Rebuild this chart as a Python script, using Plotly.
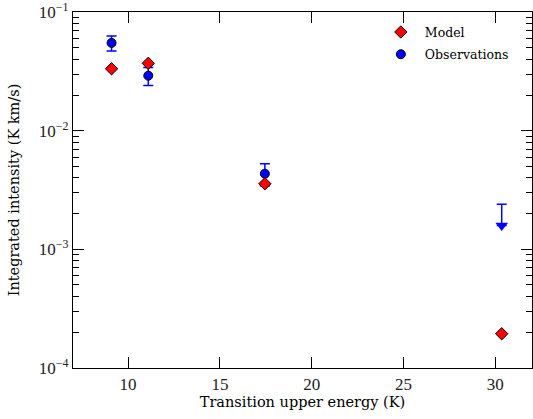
import plotly.graph_objects as go

# Data
model_x = [9.1, 11.1, 17.45, 30.35]
model_y = [0.0333, 0.0370, 0.00357, 0.000194]

obs_x = [9.1, 11.1, 17.45]
obs_y = [0.0550, 0.0291, 0.00434]
obs_err = [0.0080, 0.0050, 0.00093]

limit_x = [30.35]
limit_y = [0.0024]

y_tickvals = [1e-4, 1e-3, 1e-2, 1e-1]
y_ticktext = ["10<sup>−4</sup>", "10<sup>−3</sup>", "10<sup>−2</sup>", "10<sup>−1</sup>"]
x_tickvals = [10, 15, 20, 25, 30]

TICKFONT = "Liberation Serif"
TITLEFONT = "DejaVu Serif"
BLUE = "#0000ff"
RED = "#ff0000"

arrow_frac = 0.66
arrow_y = [v * arrow_frac for v in limit_y]
arrow_len = [v - a for v, a in zip(limit_y, arrow_y)]

minor_vals = [m * 10 ** e for e in range(-4, -1) for m in range(2, 10)]

fig = go.Figure()

fig.add_trace(go.Scatter(
    x=obs_x, y=obs_y, mode="markers", name="Observations",
    legendrank=2, legendgroup="obs",
    marker=dict(symbol="circle", size=9, color=BLUE, line=dict(color="black", width=1)),
    error_y=dict(type="data", array=obs_err, symmetric=True, color=BLUE, thickness=1.5, width=5),
))

fig.add_trace(go.Scatter(
    x=limit_x, y=arrow_y, mode="markers", showlegend=False, legendgroup="obs",
    marker=dict(symbol="triangle-down", size=11, color=BLUE, line=dict(width=0)),
    error_y=dict(type="data", array=arrow_len, arrayminus=[0] * len(arrow_len),
                 symmetric=False, color=BLUE, thickness=1.5, width=5),
))

fig.add_trace(go.Scatter(
    x=model_x, y=model_y, mode="markers", name="Model",
    legendrank=1, legendgroup="model",
    marker=dict(symbol="diamond", size=9.5, color=RED, line=dict(color="black", width=1)),
))

axis_common = dict(
    showline=True, linecolor="black", linewidth=1.3, mirror="ticks",
    ticks="inside", ticklen=11, tickwidth=1.2, tickcolor="black",
    showgrid=False, zeroline=False, automargin=False, ticklabeloverflow="allow",
    tickfont=dict(family=TICKFONT, size=17, color="#222"),
)

fig.update_xaxes(
    range=[7, 32], tickvals=x_tickvals,
    title=dict(text="Transition upper energy (K)", font=dict(family=TITLEFONT, size=14.5, color="black"), standoff=4),
    **axis_common,
)
fig.update_yaxes(
    type="log", range=[-4.001, -0.999], tickvals=y_tickvals, ticktext=y_ticktext,
    minor=dict(ticks="inside", ticklen=6, tickwidth=1.1, tickcolor="black", tickvals=minor_vals, showgrid=False),
    title=dict(text="Integrated intensity (K km/s)", font=dict(family=TITLEFONT, size=14.5, color="black"), standoff=15),
    **axis_common,
)

fig.update_layout(
    width=533, height=419,
    margin=dict(l=73, r=1, t=12, b=51),
    paper_bgcolor="white", plot_bgcolor="white",
    showlegend=True,
    legend=dict(x=0.662, y=0.985, xanchor="left", yanchor="top",
                bgcolor="rgba(255,255,255,0)", borderwidth=0, itemwidth=38,
                tracegroupgap=3,
                font=dict(family=TITLEFONT, size=12.5, color="black")),
)

fig.write_html("out.html", config={"displayModeBar": False},
               post_script="document.body.style.margin='0';")
